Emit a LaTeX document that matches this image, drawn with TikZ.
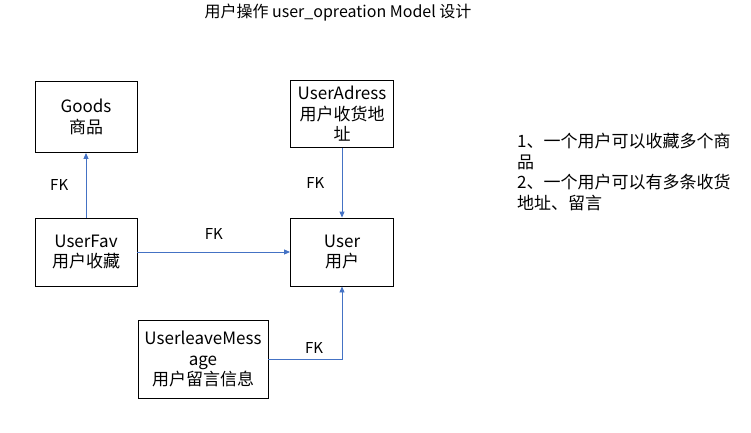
\documentclass[tikz,border=0pt]{standalone}
\usepackage{fontspec}
\setmainfont{Noto Sans CJK SC}
\usetikzlibrary{positioning,arrows.meta}

\definecolor{fkblue}{RGB}{68,114,196}
\tikzstyle{format}=[rectangle,draw,line width=0.9pt,fill=white,align=center,minimum width=102pt,minimum height=68pt,font=\fontsize{17pt}{20.5pt}\selectfont]
\tikzstyle{fk}=[draw=fkblue,line width=0.9pt,-{Triangle[length=6pt,width=5pt]}]
\tikzstyle{fklabel}=[font=\fontsize{15pt}{18pt}\selectfont]

\begin{document}
\begin{tikzpicture}[x=1pt,y=-1pt]
		\useasboundingbox (0,0) rectangle (751,432);
		\node[font=\fontsize{16pt}{18pt}\selectfont] (title) at (338,13) {用户操作 user\_opreation Model 设计};
		\node[format] (fav) at (86,252) {UserFav\\用户收藏};
		\node[format,minimum height=71pt,above of=fav,node distance=135pt] (goods){Goods\\商品};
		\node[format,minimum width=103pt,right of=fav,node distance=256pt] (user){User\\用户};
		\node[format,minimum width=103pt,minimum height=67pt,above of=user,node distance=138pt] (adress){UserAdress\\用户收货地\\址};
		\node[format,minimum width=130pt,minimum height=78pt] (message) at (203,359) {UserleaveMess\\age\\用户留言信息};
		\node[anchor=north west,align=left,inner sep=0pt,font=\fontsize{17pt}{20.5pt}\selectfont] (note) at (517,133) {1、一个用户可以收藏多个商\\品\\2、一个用户可以有多条收货\\地址、留言};
		\draw[fk] (fav)--node[fklabel,left=14pt]{FK}(goods);
		\draw[fk] (adress)--node[fklabel,left=14pt]{FK}(user);
		\draw[fk] (fav.east)--node[fklabel,above=9pt]{FK}(user.west);
		\draw[fk] (message.east)-|node[fklabel,pos=0.31,above=2pt]{FK}(user.south);
	\end{tikzpicture}
\end{document}
